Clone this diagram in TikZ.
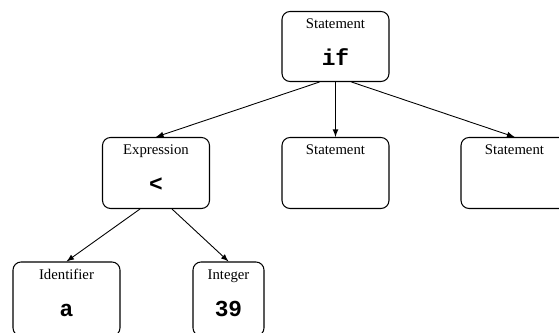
\documentclass[tikz,border=0pt]{standalone}
\usepackage{fontspec}
\setmainfont{Liberation Serif}
\newfontfamily\codefont{Liberation Mono}
\usepackage{tikz}
\usetikzlibrary{calc,arrows}

\tikzset{
	box/.style={draw, rounded corners=1.6mm, line width=0.6pt, minimum height=1.42cm, minimum width=2.14cm, inner sep=0pt},
	kind/.style={anchor=base, font=\fontsize{8.4}{10}\selectfont},
	code/.style={anchor=base, font=\fontsize{13}{15}\selectfont\codefont\bfseries},
}

\begin{document}
\begin{tikzpicture}[x=0.02cm,y=-0.02cm]
	
	\clip (0,0) rectangle (559,333);
	
	% if statement
	\node[box, minimum height=1.4cm] (stmt) at (335.5,46.5) {};
	\node[kind] (stmt-kind) at ($(stmt.north)+(0,18)$) {Statement};
	\node[code] (stmt-code) at ($(stmt.north)+(0,55)$) {if};
	
	% condition
	\node[box] (cond) at (156,173) {};
	\node[kind] (cond-kind) at ($(cond.north)+(0,18)$) {Expression};
	\node[code] (cond-code) at ($(cond.north)+(0,55)$) {<};
	
	% then / else
	\node[box] (then) at (335.5,173) {};
	\node[kind] (then-kind) at ($(then.north)+(0,18)$) {Statement};
	
	\node[box] (else) at (514.5,173) {};
	\node[kind] (else-kind) at ($(else.north)+(0,18)$) {Statement};
	
	% operands (cut off at the bottom)
	\node[box, minimum height=1.48cm] (ident) at (66.5,299) {};
	\node[kind] (ident-kind) at ($(ident.north)+(0,18)$) {Identifier};
	\node[code] (ident-code) at ($(ident.north)+(0,55)$) {a};
	
	\node[box, minimum height=1.48cm, minimum width=1.42cm] (int) at (228.5,299) {};
	\node[kind] (int-kind) at ($(int.north)+(0,18)$) {Integer};
	\node[code] (int-code) at ($(int.north)+(0,55)$) {39};
	
	\draw[->,>=latex,line width=0.5pt] ($(stmt.south)+(-16,0)$) -- (cond.north);
	\draw[->,>=latex,line width=0.5pt] (stmt.south) -- (then.north);
	\draw[->,>=latex,line width=0.5pt] ($(stmt.south)+(16,0)$) -- (else.north);
	
	\draw[->,>=latex,line width=0.5pt] ($(cond.south)+(-16,0)$) -- (ident.north);
	\draw[->,>=latex,line width=0.5pt] ($(cond.south)+(16,0)$) -- (int.north);
\end{tikzpicture}
\end{document}
